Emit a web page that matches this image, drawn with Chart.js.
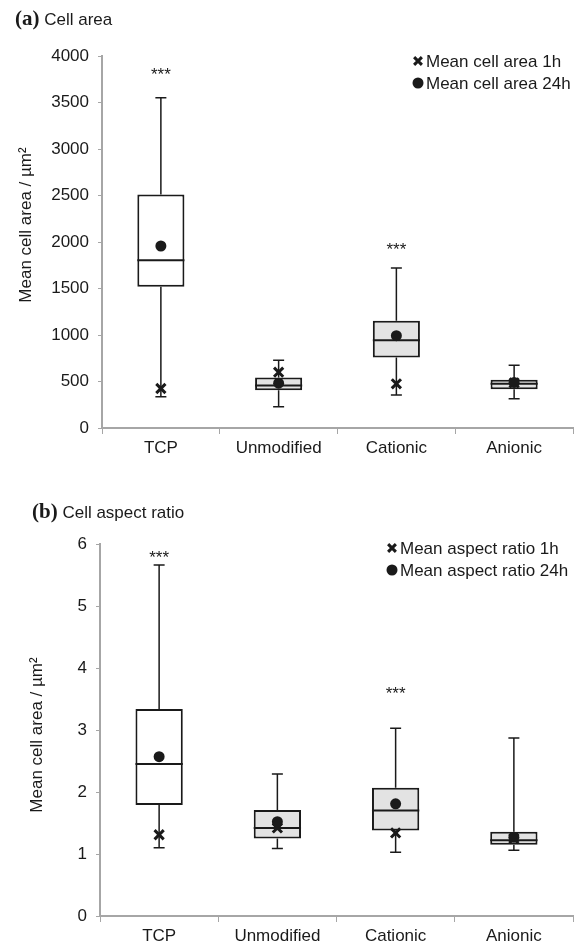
<!DOCTYPE html>
<html>
<head>
<meta charset="utf-8">
<script src="https://cdn.jsdelivr.net/npm/chart.js@4.4.1/dist/chart.umd.min.js"></script>
<style>
  body { margin:0; background:#fff; width:583px; height:947px; position:relative; overflow:hidden; font-family:"Liberation Sans", Arial, sans-serif; color:#1a1a1a; }
  canvas { position:absolute; left:0; }
  #cA { top:0; }
  #cB { top:470px; }
  .ptitle { position:absolute; font-size:17px; white-space:nowrap; z-index:2; }
  .ptitle b { font-family:"Liberation Serif", "Times New Roman", serif; font-size:21px; }
</style>
</head>
<body>
<canvas id="cA" width="583" height="470"></canvas>
<canvas id="cB" width="583" height="477"></canvas>
<div class="ptitle" style="left:15px; top:6px;"><b>(a)</b> Cell area</div>
<div class="ptitle" style="left:32px; top:499px;"><b>(b)</b> Cell aspect ratio</div>
<script>
const categories = ['TCP', 'Unmodified', 'Cationic', 'Anionic'];
const boxFill = ['#ffffff', '#e3e3e3', '#e3e3e3', '#e3e3e3'];

// (a) cell area
const areaMin    = [335, 229, 354, 314];
const areaQ1     = [1518, 407, 757, 418];
const areaMedian = [1804, 457, 943, 475];
const areaQ3     = [2510, 543, 1152, 518];
const areaMax    = [3550, 729, 1721, 675];
const areaMean24 = [1957, 482, 993, 490];
const areaMean1  = [425, 600, 475, 485];
const areaSig    = [3850, null, 1964, null];
const areaTicks  = { min: 0, max: 4000, step: 500 };

// (b) aspect ratio
const ratioMin    = [1.10, 1.09, 1.03, 1.06];
const ratioQ1     = [1.79, 1.25, 1.38, 1.15];
const ratioMedian = [2.45, 1.42, 1.70, 1.22];
const ratioQ3     = [3.34, 1.71, 2.07, 1.36];
const ratioMax    = [5.66, 2.29, 3.03, 2.87];
const ratioMean24 = [2.57, 1.52, 1.81, 1.27];
const ratioMean1  = [1.31, 1.42, 1.34, 1.25];
const ratioSig    = [5.85, null, 3.66, null];
const ratioTicks  = { min: 0, max: 6, step: 1 };

const INK = '#1a1a1a';
const AXIS = '#a6a6a6';
const FONT = '"Liberation Sans", Arial, sans-serif';

// whiskers, medians, stars, y title and legend
function boxExtras(p) {
  return {
    id: 'boxExtras',
    beforeDatasetsDraw(chart) {
      const { ctx } = chart;
      const y = chart.scales.y;
      const bars = chart.getDatasetMeta(0).data;
      ctx.save();
      ctx.strokeStyle = INK;
      ctx.lineWidth = 1.5;
      bars.forEach((bar, i) => {
        const x = bar.x;
        const lo = y.getPixelForValue(p.min[i]);
        const hi = y.getPixelForValue(p.max[i]);
        const q1 = y.getPixelForValue(p.q1[i]);
        const q3 = y.getPixelForValue(p.q3[i]);
        ctx.beginPath();
        ctx.moveTo(x, q3); ctx.lineTo(x, hi);
        ctx.moveTo(x - 5.5, hi); ctx.lineTo(x + 5.5, hi);
        ctx.moveTo(x, q1); ctx.lineTo(x, lo);
        ctx.moveTo(x - 5.5, lo); ctx.lineTo(x + 5.5, lo);
        ctx.stroke();
      });
      ctx.restore();
    },
    afterDatasetDraw(chart, args) {
      if (args.index !== 0) return;
      const { ctx } = chart;
      const y = chart.scales.y;
      ctx.save();
      ctx.strokeStyle = INK;
      ctx.lineWidth = 2;
      args.meta.data.forEach((bar, i) => {
        const m = y.getPixelForValue(p.median[i]);
        ctx.beginPath();
        ctx.moveTo(bar.x - bar.width / 2, m);
        ctx.lineTo(bar.x + bar.width / 2, m);
        ctx.stroke();
      });
      ctx.restore();
    },
    afterDraw(chart) {
      const { ctx } = chart;
      const y = chart.scales.y, x = chart.scales.x;
      ctx.save();
      ctx.fillStyle = INK;
      ctx.strokeStyle = INK;
      // significance stars
      ctx.font = '17px ' + FONT;
      ctx.textAlign = 'center';
      ctx.textBaseline = 'middle';
      p.sig.forEach((v, i) => {
        if (v == null) return;
        ctx.fillText('***', x.getPixelForValue(i), y.getPixelForValue(v) + 5);
      });
      // y axis title
      ctx.save();
      ctx.translate(p.titleX, p.titleY);
      ctx.rotate(-Math.PI / 2);
      ctx.fillText('Mean cell area / µm²', 0, 0);
      ctx.restore();
      // legend
      ctx.textAlign = 'left';
      const ds = chart.data.datasets;
      [2, 1].forEach((di, k) => {
        const d = ds[di];
        const ly = p.legY + k * 22;
        ctx.lineWidth = d.borderWidth || 1;
        Chart.helpers.drawPoint(ctx, {
          pointStyle: d.pointStyle, radius: d.pointStyle === 'crossRot' ? 5.5 : d.pointRadius,
          borderWidth: d.borderWidth, rotation: 0
        }, p.legX, ly);
        ctx.fillStyle = INK;
        ctx.fillText(d.label, p.legX + 8, ly + 1);
      });
      ctx.restore();
    }
  };
}

function makeChart(id, p) {
  return new Chart(document.getElementById(id), {
    type: 'bar',
    data: {
      labels: categories,
      datasets: [
        {
          label: 'box',
          data: categories.map((c, i) => [p.q1[i], p.q3[i]]),
          backgroundColor: boxFill,
          borderColor: INK,
          borderWidth: 2,
          borderSkipped: false,
          barPercentage: 0.4,
          categoryPercentage: 1,
          order: 3
        },
        {
          type: 'line',
          label: p.label24,
          data: p.mean24,
          showLine: false,
          pointStyle: 'circle',
          pointRadius: 5.5,
          backgroundColor: INK,
          borderColor: INK,
          borderWidth: 0,
          order: 1
        },
        {
          type: 'line',
          label: p.label1,
          data: p.mean1,
          showLine: false,
          pointStyle: 'crossRot',
          pointRadius: 6.5,
          backgroundColor: INK,
          borderColor: INK,
          borderWidth: 3,
          order: 2
        }
      ]
    },
    options: {
      responsive: false,
      animation: false,
      layout: { padding: { top: p.top, right: 10, left: 0, bottom: 0 } },
      plugins: { legend: { display: false }, tooltip: { enabled: false } },
      scales: {
        x: {
          afterFit: s => { s.height = p.xH; },
          grid: { display: true, offset: true, drawOnChartArea: false, tickLength: 6, color: AXIS, lineWidth: 1 },
          border: { color: AXIS, width: 2 },
          ticks: { color: INK, font: { size: 17, family: FONT }, padding: 4 }
        },
        y: {
          min: p.ticks.min,
          max: p.ticks.max,
          afterFit: s => { s.width = p.yW; },
          grid: { display: true, drawOnChartArea: false, tickLength: 4, color: AXIS, lineWidth: 1 },
          border: { color: AXIS, width: 2 },
          ticks: { stepSize: p.ticks.step, color: INK, font: { size: 17, family: FONT }, padding: 9, callback: v => String(v) }
        }
      }
    },
    plugins: [boxExtras(p)]
  });
}

makeChart('cA', {
  min: areaMin, q1: areaQ1, median: areaMedian, q3: areaQ3, max: areaMax,
  mean24: areaMean24, mean1: areaMean1, sig: areaSig, ticks: areaTicks,
  label1: 'Mean cell area 1h', label24: 'Mean cell area 24h',
  top: 56, xH: 42, yW: 102, titleX: 26, titleY: 225, legX: 418, legY: 61
});

makeChart('cB', {
  min: ratioMin, q1: ratioQ1, median: ratioMedian, q3: ratioQ3, max: ratioMax,
  mean24: ratioMean24, mean1: ratioMean1, sig: ratioSig, ticks: ratioTicks,
  label1: 'Mean aspect ratio 1h', label24: 'Mean aspect ratio 24h',
  top: 74, xH: 31, yW: 100, titleX: 37, titleY: 265, legX: 392, legY: 78
});
</script>
</body>
</html>
